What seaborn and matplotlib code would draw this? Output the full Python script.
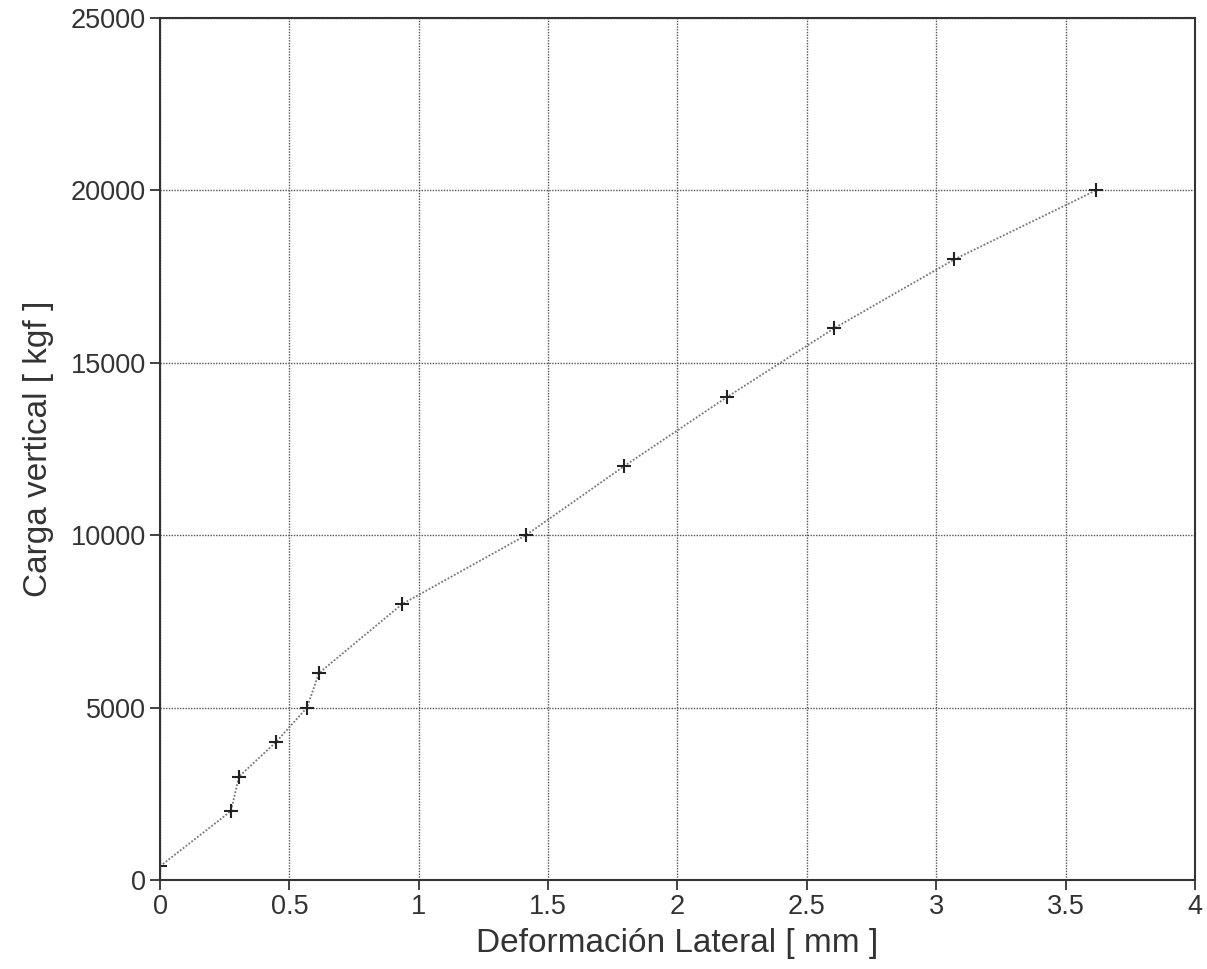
import matplotlib
matplotlib.use("Agg")
import matplotlib.pyplot as plt
import seaborn as sns
import pandas as pd

deformacion = [0.0, 0.274, 0.305, 0.448, 0.568, 0.614, 0.935, 1.414, 1.793, 2.19, 2.605, 3.07, 3.617]
carga = [400, 2000, 3000, 4000, 5000, 6000, 8000, 10000, 12000, 14000, 16000, 18000, 20000]
x_ticks = [0, 0.5, 1, 1.5, 2, 2.5, 3, 3.5, 4]
x_tick_labels = ["0", "0.5", "1", "1.5", "2", "2.5", "3", "3.5", "4"]
y_ticks = [0, 5000, 10000, 15000, 20000, 25000]
y_tick_labels = ["0", "5000", "10000", "15000", "20000", "25000"]

df = pd.DataFrame({"x": deformacion, "y": carga})

sns.set_style("white")
plt.rcParams['font.family'] = ['Liberation Sans', 'DejaVu Sans']

fig = plt.figure(figsize=(12.07, 9.69), dpi=100)
ax = fig.add_axes([0.1326, 0.0918, 0.8574, 0.8896])

sns.lineplot(data=df, x="x", y="y", ax=ax, color="#777777", linestyle=(0, (1, 1)),
             linewidth=1.3, marker="+", markersize=10, markeredgewidth=1.5,
             markeredgecolor="#222222", sort=False)

ax.set_xlim(0, 4)
ax.set_ylim(0, 25000)
ax.set_xticks(x_ticks)
ax.set_xticklabels(x_tick_labels)
ax.set_yticks(y_ticks)
ax.set_yticklabels(y_tick_labels)
ax.grid(True, color="#555555", linestyle=(0, (1, 1)), linewidth=1.0)
for s in ax.spines.values():
    s.set_color("#333333")
    s.set_linewidth(1.5)
ax.tick_params(axis="both", direction="out", length=7, width=1.3, color="#333333",
               labelsize=19.5, labelcolor="#333333", left=True, bottom=True, pad=3)
ax.set_xlabel("Deformación Lateral [ mm ]", fontsize=24, color="#333333", labelpad=6)
ax.set_ylabel("Carga vertical [ kgf ]", fontsize=24, color="#333333", labelpad=12)

fig.savefig("out.png", dpi=100)
